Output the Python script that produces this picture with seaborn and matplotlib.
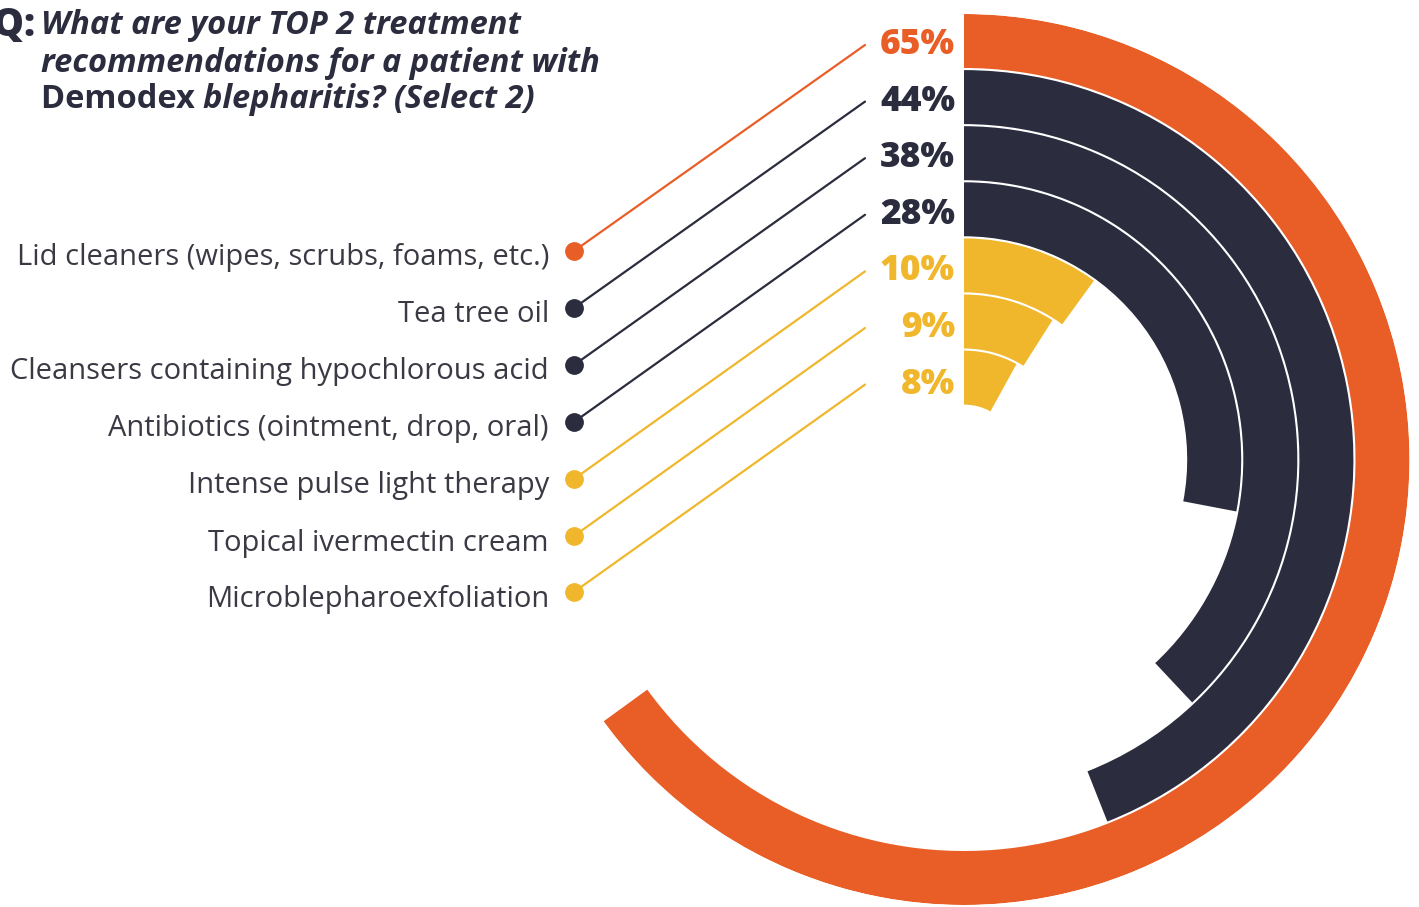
import numpy as np
import matplotlib
matplotlib.use("Agg")
import matplotlib.pyplot as plt
from matplotlib.lines import Line2D
import seaborn as sns

# ---- data ----
categories = [
    "Lid cleaners (wipes, scrubs, foams, etc.)",
    "Tea tree oil",
    "Cleansers containing hypochlorous acid",
    "Antibiotics (ointment, drop, oral)",
    "Intense pulse light therapy",
    "Topical ivermectin cream",
    "Microblepharoexfoliation",
]
values = [65, 44, 38, 28, 10, 9, 8]
value_labels = ["65%", "44%", "38%", "28%", "10%", "9%", "8%"]

ORANGE = "#E95E26"
DARK = "#2B2C3E"
YELLOW = "#F0B72C"
colors = [ORANGE, DARK, DARK, DARK, YELLOW, YELLOW, YELLOW]

sns.set_theme(style="white")
plt.rcParams["font.family"] = ["Open Sans", "DejaVu Sans"]

W, H = 1419, 907
fig = plt.figure(figsize=(W / 100, H / 100), dpi=100)
fig.patch.set_facecolor("white")

def fx(x):
    return x / W

def fy(y):
    return 1 - y / H

# ---- radial bars ----
cx, cy, R = 964, 459.5, 445.5
ax = fig.add_axes([fx(cx - R), (H - cy - R) / H, 2 * R / W, 2 * R / H], projection="polar")
ax.set_theta_zero_location("N")
ax.set_theta_direction(-1)
ax.set_ylim(0, R)
ax.axis("off")

step = 56.1
thick = 54.0
for i, (v, c) in enumerate(zip(values, colors)):
    outer = R - i * step
    ax.bar(0, thick, width=np.deg2rad(v / 100 * 360), bottom=outer - thick,
           color=c, align="edge", linewidth=0)

# ---- percentage labels ----
label_y = [43 + 56.6 * i for i in range(len(values))]
for i, (lab, c) in enumerate(zip(value_labels, colors)):
    fig.text(fx(955), fy(label_y[i] + 2), lab, ha="right", va="center", fontsize=25.5,
             fontweight="heavy", color=c)

# ---- leader lines, dots, category labels ----
dot_y = [251, 308, 365, 422, 479, 536, 592]
for i, (cat, c) in enumerate(zip(categories, colors)):
    ys = label_y[i] + 2
    fig.add_artist(Line2D([fx(865), fx(574)], [fy(ys), fy(dot_y[i])],
                          transform=fig.transFigure, color=c, lw=1.6))
    fig.add_artist(Line2D([fx(574)], [fy(dot_y[i])], transform=fig.transFigure,
                          marker="o", markersize=12.5, color=c, lw=0))
    fig.text(fx(549), fy(dot_y[i] + 7), cat, ha="right", va="center",
             fontsize=21, color="#3A3A45")

# ---- title ----
TC = "#2B2C3E"
fig.text(fx(35), fy(25), "Q:", ha="right", va="center", fontsize=28,
         fontweight="heavy", color=TC)
fig.text(fx(41), fy(25), "What are your TOP 2 treatment", ha="left", va="center",
         fontsize=23.5, fontweight="bold", style="italic", color=TC)
fig.text(fx(41), fy(63), "recommendations for a patient with", ha="left", va="center",
         fontsize=23.5, fontweight="bold", style="italic", color=TC)
t1 = fig.text(fx(41), fy(100), "Demodex ", ha="left", va="center",
              fontsize=23.5, fontweight="bold", color=TC)
fig.canvas.draw()
bb = t1.get_window_extent(renderer=fig.canvas.get_renderer())
fig.text(bb.x1 / W, fy(100), "blepharitis? (Select 2)", ha="left", va="center",
         fontsize=23.5, fontweight="bold", style="italic", color=TC)

fig.savefig("out.png", dpi=100)
